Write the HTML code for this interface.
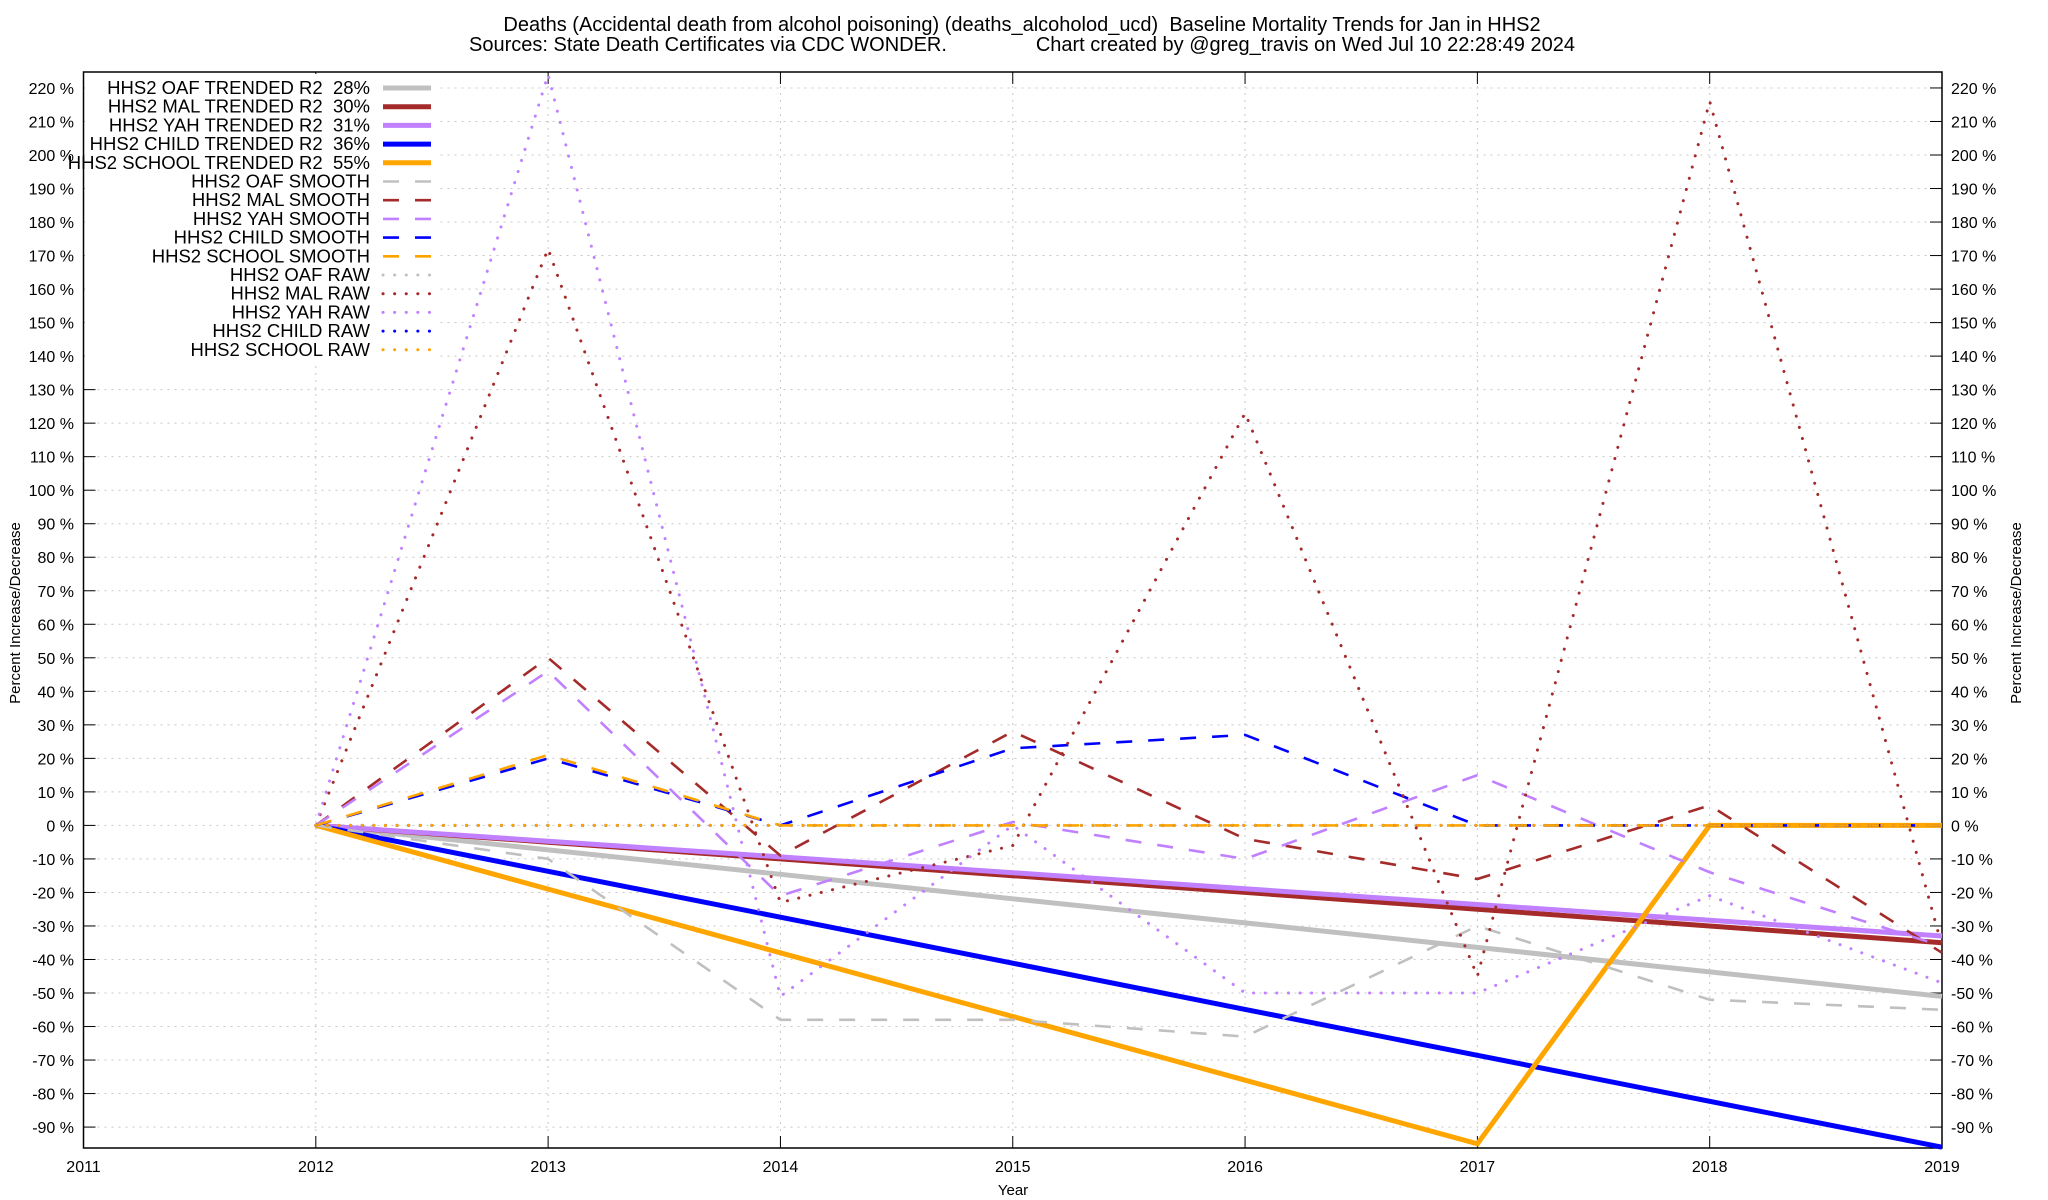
<!DOCTYPE html>
<html><head><meta charset="utf-8"><style>
html,body{margin:0;padding:0;background:#fff;}
svg{display:block;font-family:"Liberation Sans",sans-serif;}
text{white-space:pre;}
</style></head><body>
<svg id="chart" width="2048" height="1200" viewBox="0 0 2048 1200" xmlns="http://www.w3.org/2000/svg">
<text x="1022" y="31" font-size="20" text-anchor="middle">Deaths (Accidental death from alcohol poisoning) (deaths_alcoholod_ucd)  Baseline Mortality Trends for Jan in HHS2</text>
<text x="1022" y="51" font-size="20" text-anchor="middle">Sources: State Death Certificates via CDC WONDER.                Chart created by @greg_travis on Wed Jul 10 22:28:49 2024</text>
<text x="1013" y="1195" font-size="15" text-anchor="middle">Year</text>
<text transform="translate(20,613) rotate(-90)" font-size="15" text-anchor="middle">Percent Increase/Decrease</text>
<text transform="translate(2021,613) rotate(-90)" font-size="15" text-anchor="middle">Percent Increase/Decrease</text>
<g id="grid"></g><g id="axes"></g><g id="series"></g><g id="legend"></g>
</svg>
<script>
const years=[2012,2013,2014,2015,2016,2017,2018,2019];
const xTicks=[2011,2012,2013,2014,2015,2016,2017,2018,2019];
const yTicks=[-90,-80,-70,-60,-50,-40,-30,-20,-10,0,10,20,30,40,50,60,70,80,90,100,110,120,130,140,150,160,170,180,190,200,210,220];
const oafTrend=[0,-7.3,-14.6,-21.9,-29.1,-36.4,-43.7,-51];
const malTrend=[0,-5,-10,-15,-20,-25,-30,-35];
const yahTrend=[0,-4.7,-9.4,-14.1,-18.9,-23.6,-28.3,-33];
const childTrend=[0,-13.7,-27.4,-41.1,-54.9,-68.6,-82.3,-96];
const schoolTrend=[0,-19,-38,-57,-76,-95,0,0];
const oafSmooth=[0,-10,-58,-58,-63,-30,-52,-55];
const malSmooth=[0,50,-9,28,-4,-16,6,-38];
const yahSmooth=[0,46,-21,1,-10,15,-14,-36];
const childSmooth=[0,20,0,23,27,0,0,0];
const schoolSmooth=[0,21,0,0,0,0,0,0];
const oafRaw=[0,0,0,0,0,0,0,0];
const malRaw=[0,172,-23,-6,123,-45,216,-36];
const yahRaw=[0,224,-51,0,-50,-50,-21,-47];
const childRaw=[0,0,0,0,0,0,0,0];
const schoolRaw=[0,0,0,0,0,0,0,0];

const L=83.5,R=1942,T=72,B=1148;
const xs=y=>L+(y-2011)*(R-L)/8;
const ys=v=>825.4-v*3.352;
const NS="http://www.w3.org/2000/svg";
function mk(tag,parent,attrs){const e=document.createElementNS(NS,tag);for(const k in attrs)e.setAttribute(k,attrs[k]);document.getElementById(parent).appendChild(e);return e;}

yTicks.forEach(v=>{
  const g=mk('line','grid',{x1:L,x2:R,y1:ys(v),y2:ys(v),stroke:'#c8c8c8','stroke-width':1,'stroke-dasharray':'2 5'});
  
  
  const t1=mk('line','axes',{x1:L,x2:L+12,y1:ys(v),y2:ys(v),stroke:'#000'});
  
  
  const t2=mk('line','axes',{x1:R-12,x2:R,y1:ys(v),y2:ys(v),stroke:'#000'});
  
  
  const a=mk('text','axes',{x:74,y:ys(v)+6,'font-size':16,'text-anchor':'end'});a.textContent=v+' %';
  
  
  const b=mk('text','axes',{x:1951,y:ys(v)+6,'font-size':16}); b.textContent=v+' %';
  
  
});
xTicks.forEach(y=>{
  if(y>2011&&y<2019){const g=mk('line','grid',{x1:xs(y),x2:xs(y),y1:T,y2:B,stroke:'#c8c8c8','stroke-width':1,'stroke-dasharray':'2 5'});
  
  }
  const t=mk('line','axes',{x1:xs(y),x2:xs(y),y1:B-12,y2:B,stroke:'#000'});
  
  
  const t2=mk('line','axes',{x1:xs(y),x2:xs(y),y1:T,y2:T+12,stroke:'#000'});
  
  
  const a=mk('text','axes',{x:xs(y),y:1172,'font-size':16,'text-anchor':'middle'});a.textContent=y;
  
  
});
const frame=mk('rect','axes',{x:L,y:T,width:R-L,height:B-T,fill:'none',stroke:'#000','stroke-width':1.5});


const bg=mk('rect','axes',{x:L+1,y:T+2,width:355,height:290,fill:'#fff'});



const C={oaf:'#c0c0c0',mal:'#a52a2a',yah:'#c080ff',child:'#0000ff',school:'#ffa500'};
const series=[
 ['HHS2 OAF TRENDED R2  28%',oafTrend,C.oaf,'trend'],
 ['HHS2 MAL TRENDED R2  30%',malTrend,C.mal,'trend'],
 ['HHS2 YAH TRENDED R2  31%',yahTrend,C.yah,'trend'],
 ['HHS2 CHILD TRENDED R2  36%',childTrend,C.child,'trend'],
 ['HHS2 SCHOOL TRENDED R2  55%',schoolTrend,C.school,'trend'],
 ['HHS2 OAF SMOOTH',oafSmooth,C.oaf,'smooth'],
 ['HHS2 MAL SMOOTH',malSmooth,C.mal,'smooth'],
 ['HHS2 YAH SMOOTH',yahSmooth,C.yah,'smooth'],
 ['HHS2 CHILD SMOOTH',childSmooth,C.child,'smooth'],
 ['HHS2 SCHOOL SMOOTH',schoolSmooth,C.school,'smooth'],
 ['HHS2 OAF RAW',oafRaw,C.oaf,'raw'],
 ['HHS2 MAL RAW',malRaw,C.mal,'raw'],
 ['HHS2 YAH RAW',yahRaw,C.yah,'raw'],
 ['HHS2 CHILD RAW',childRaw,C.child,'raw'],
 ['HHS2 SCHOOL RAW',schoolRaw,C.school,'raw']];
const style={trend:{w:5,d:''},smooth:{w:2.6,d:'16 16'},raw:{w:3,d:'0.1 11.5'}};
series.forEach((s,i)=>{
  const st=style[s[3]];
  const pts=s[1].map((v,j)=>xs(years[j]).toFixed(1)+','+ys(v).toFixed(1)).join(' ');
  const p=mk('polyline','series',{points:pts,fill:'none',stroke:s[2],'stroke-width':st.w,'stroke-dasharray':st.d,'stroke-linecap':s[3]==='raw'?'round':'butt','stroke-linejoin':'miter'});
  
  
  const y=88+i*18.7;
  const t=mk('text','legend',{x:370,y:y+6,'font-size':18.5,'text-anchor':'end'});t.textContent=s[0];
  
  
  const l=mk('line','legend',{x1:383,x2:431,y1:y,y2:y,stroke:s[2],'stroke-width':st.w,'stroke-dasharray':st.d,'stroke-linecap':s[3]==='raw'?'round':'butt'});
  
  
});
</script>
</body></html>
